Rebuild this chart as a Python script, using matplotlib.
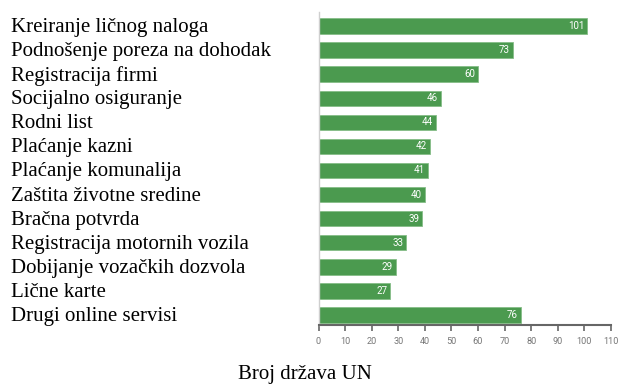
import matplotlib
matplotlib.use("Agg")
import matplotlib.pyplot as plt
import matplotlib.transforms as mtransforms

services = [
    "Kreiranje ličnog naloga",
    "Podnošenje poreza na dohodak",
    "Registracija firmi",
    "Socijalno osiguranje",
    "Rodni list",
    "Plaćanje kazni",
    "Plaćanje komunalija",
    "Zaštita životne sredine",
    "Bračna potvrda",
    "Registracija motornih vozila",
    "Dobijanje vozačkih dozvola",
    "Lične karte",
    "Drugi online servisi",
]
countries = [101, 73, 60, 46, 44, 42, 41, 40, 39, 33, 29, 27, 76]
x_ticks = list(range(0, 111, 10))

BAR_GREEN = "#4b9a4f"
SMALL_FONT = ["Roboto", "DejaVu Sans"]

fig = plt.figure(figsize=(6.18, 3.85), dpi=100)
W, H = 618, 385
ax = fig.add_axes([318.5 / W, (H - 325) / H, (611 - 318.5) / W, (325 - 12) / H])

ypos = list(range(len(services)))
ax.barh(ypos, countries, height=0.64, color=BAR_GREEN,
        edgecolor="#86bd88", linewidth=0.6)

ax.set_xlim(0, 110)
ax.set_ylim(len(services) - 1 + 0.415, -0.58)

# value labels inside the bar ends
for y, v in zip(ypos, countries):
    ax.annotate(str(v), xy=(v, y), xytext=(-2, 0), textcoords="offset points",
                ha="right", va="center", color="white", fontsize=7,
                family=SMALL_FONT)

# category names flush left in the figure
trans = mtransforms.blended_transform_factory(fig.transFigure, ax.transData)
for y, name in zip(ypos, services):
    ax.text(11 / W, y + 0.06, name, transform=trans, ha="left", va="center",
            fontsize=15, family="Liberation Serif", color="black")

ax.set_yticks([])
ax.set_xticks(x_ticks)
ax.set_xticklabels([str(t) for t in x_ticks], family=SMALL_FONT)
ax.tick_params(axis="x", direction="out", length=4, width=1.2,
               color="#666666", labelsize=6.6, labelcolor="#777777", pad=4.5)

for side in ("top", "right"):
    ax.spines[side].set_visible(False)
ax.spines["left"].set_color("#cfcfcf")
ax.spines["left"].set_linewidth(1.0)
ax.spines["bottom"].set_color("#666666")
ax.spines["bottom"].set_linewidth(1.5)

fig.text(305 / W, 6 / H, "Broj država UN", ha="center", va="baseline",
         fontsize=15, family="Liberation Serif")

fig.savefig("out.png", dpi=100)
